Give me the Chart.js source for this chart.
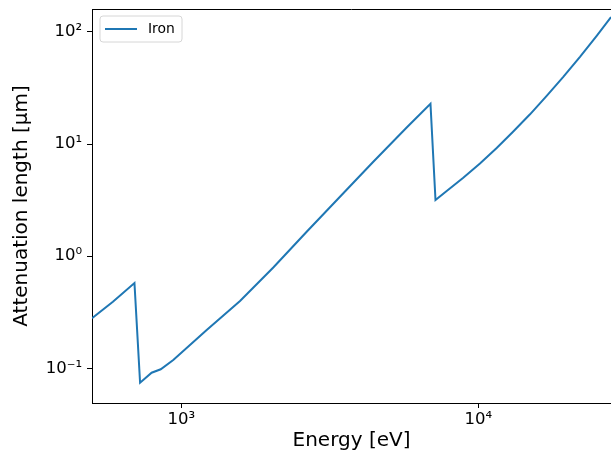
<!DOCTYPE html>
<html>
<head>
<meta charset="utf-8">
<script src="https://cdn.jsdelivr.net/npm/chart.js@4/dist/chart.umd.min.js"></script>
<style>
  body { margin: 0; background: #fff; }
</style>
</head>
<body>
<canvas id="myChart" width="611" height="456"></canvas>
<script>
// values
let energy = [500, 588, 695, 726, 794, 852, 939, 1217, 1576, 2040, 2643, 3422, 4431, 5741, 6904, 7178,
              7829, 8903, 10134, 11538, 13122, 14940, 17003, 19339, 22012, 25059, 28000];
let atten = [0.2785, 0.3915, 0.574, 0.0743, 0.0912, 0.0978, 0.1184, 0.2191, 0.397, 0.79, 1.645, 3.373, 6.916, 13.94, 22.72, 3.152,
             3.792, 4.97, 6.664, 9.159, 12.85, 18.28, 26.72, 39.45, 59.45, 91.48, 134.2];

let majorLabels = {0.1: '10⁻¹', 1: '10⁰', 10: '10¹', 100: '10²', 1000: '10³', 10000: '10⁴'};

// ticks at 1..9 of every decade
function decadeTicks(decades) {
    let out = [];
    decades.forEach(d => {
        for (let k = 1; k <= 9; k++) out.push(k * d);
    });
    return out;
}
let xTicks = decadeTicks([100, 1000, 10000]);
let yTicks = decadeTicks([0.01, 0.1, 1, 10, 100]);

let points = energy.map((e, i) => ({x: e, y: atten[i]}));

function isMajor(v) {
    return majorLabels[v] !== undefined;
}

// tick marks (long for decades, short for the rest), top spine and legend
let decoPlugin = {
    id: 'deco',
    afterDraw(chart) {
        let ctx = chart.ctx;
        let area = chart.chartArea;
        let xs = chart.scales.x, ys = chart.scales.y;
        ctx.save();
        ctx.strokeStyle = '#000';
        ctx.lineWidth = 1;
        xs.ticks.forEach(t => {
            let px = Math.round(xs.getPixelForValue(t.value)) + 0.5;
            let len = isMajor(t.value) ? 5 : 3;
            ctx.beginPath();
            ctx.moveTo(px, area.bottom);
            ctx.lineTo(px, area.bottom + len);
            ctx.stroke();
        });
        ys.ticks.forEach(t => {
            let py = Math.round(ys.getPixelForValue(t.value)) + 0.5;
            let len = isMajor(t.value) ? 5 : 3;
            ctx.beginPath();
            ctx.moveTo(area.left - len, py);
            ctx.lineTo(area.left, py);
            ctx.stroke();
        });
        ctx.beginPath();
        ctx.moveTo(area.left, area.top + 0.5);
        ctx.lineTo(area.right, area.top + 0.5);
        ctx.stroke();

        // legend
        let ds = chart.data.datasets[0];
        let bx = area.left + 8, by = area.top + 7, bw = 82, bh = 26, r = 3;
        ctx.beginPath();
        ctx.moveTo(bx + r, by);
        ctx.arcTo(bx + bw, by, bx + bw, by + bh, r);
        ctx.arcTo(bx + bw, by + bh, bx, by + bh, r);
        ctx.arcTo(bx, by + bh, bx, by, r);
        ctx.arcTo(bx, by, bx + bw, by, r);
        ctx.closePath();
        ctx.fillStyle = 'rgba(255,255,255,0.8)';
        ctx.fill();
        ctx.strokeStyle = '#d6d6d6';
        ctx.stroke();
        ctx.strokeStyle = ds.borderColor;
        ctx.lineWidth = 2;
        ctx.beginPath();
        ctx.moveTo(bx + 5, by + 13);
        ctx.lineTo(bx + 37, by + 13);
        ctx.stroke();
        ctx.fillStyle = '#000';
        ctx.font = '13.9px "DejaVu Sans"';
        ctx.textBaseline = 'middle';
        ctx.fillText(ds.label, bx + 48, by + 13);
        ctx.restore();
    }
};

let myChart = document.getElementById("myChart").getContext('2d');

let chart1 = new Chart(myChart, {
    type: 'line',
    data: {
        datasets: [{
            label: 'Iron',
            data: points,
            borderColor: '#1f77b4',
            borderWidth: 2,
            pointRadius: 0,
            fill: false,
            tension: 0
        }]
    },
    options: {
        responsive: false,
        animation: false,
        devicePixelRatio: 1,
        layout: { padding: { top: 9, right: 0, left: 0, bottom: 0 } },
        plugins: {
            legend: { display: false },
            tooltip: { enabled: false }
        },
        scales: {
            x: {
                type: 'logarithmic',
                min: 500,
                max: 28000,
                afterBuildTicks: scale => {
                    scale.ticks = xTicks.filter(v => v >= 500 && v <= 28000).map(v => ({value: v}));
                },
                afterFit: scale => {
                    scale.height = 53;
                    scale.paddingLeft = 0;
                    scale.paddingRight = 0;
                },
                grid: { display: false, drawTicks: false },
                border: { display: true, color: '#000', width: 1 },
                ticks: {
                    autoSkip: false,
                    maxRotation: 0,
                    padding: 7,
                    color: '#000',
                    font: { family: 'DejaVu Sans', size: 16.5 },
                    callback: v => majorLabels[v] || null
                },
                title: {
                    display: true,
                    text: 'Energy [eV]',
                    color: '#000',
                    font: { family: 'DejaVu Sans', size: 20 },
                    padding: { top: 0, bottom: 3 }
                }
            },
            y: {
                type: 'logarithmic',
                min: 0.049,
                max: 158.5,
                afterBuildTicks: scale => {
                    scale.ticks = yTicks.filter(v => v >= 0.049 && v <= 158.5).map(v => ({value: v}));
                },
                afterFit: scale => {
                    scale.width = 92;
                    scale.paddingTop = 0;
                    scale.paddingBottom = 0;
                },
                grid: { display: false, drawTicks: false },
                border: { display: true, color: '#000', width: 1 },
                ticks: {
                    autoSkip: false,
                    padding: 10,
                    color: '#000',
                    font: { family: 'DejaVu Sans', size: 16.5 },
                    callback: v => majorLabels[v] || null
                },
                title: {
                    display: true,
                    text: 'Attenuation length [μm]',
                    color: '#000',
                    font: { family: 'DejaVu Sans', size: 20 },
                    padding: { top: 10, bottom: 0 }
                }
            }
        }
    },
    plugins: [decoPlugin]
});
</script>
</body>
</html>
